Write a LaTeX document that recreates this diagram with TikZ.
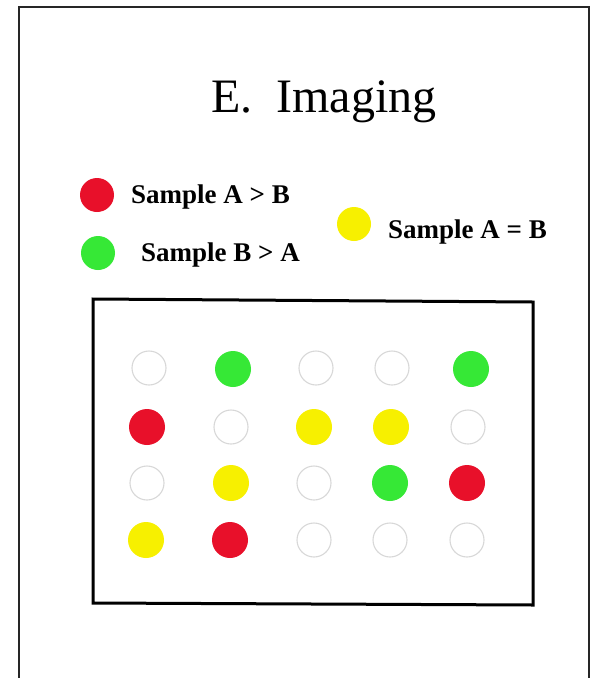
\documentclass[tikz,border=0pt]{standalone}
\usepackage{fontspec}
\setmainfont{Liberation Serif}
\definecolor{dred}{HTML}{E8102A}
\definecolor{dgreen}{HTML}{36E836}
\definecolor{dyellow}{HTML}{F7F000}
\definecolor{dring}{HTML}{D8D8D8}
\begin{document}
\begin{tikzpicture}[x=1pt,y=-1pt,
  dot/.style={circle,inner sep=0pt,minimum size=36pt},
  dotred/.style={dot,fill=dred},
  dotgreen/.style={dot,fill=dgreen},
  dotyellow/.style={dot,fill=dyellow},
  dotempty/.style={dot,draw=dring,line width=1.1pt,minimum size=34pt},
  legdot/.style={circle,inner sep=0pt,minimum size=34pt},
  legtext/.style={anchor=base west,inner sep=0pt,font=\fontsize{27}{32}\selectfont\bfseries},
  frame/.style={draw=black!85,line width=1.8pt},
  plate/.style={draw=black,line width=3pt}]
\useasboundingbox (0,0) rectangle (603,678);
\fill[white] (0,0) rectangle (603,678);
% outer frame (open at bottom)
\draw[frame] (19,680) -- (19,7) -- (589,7) -- (589,680);
% title
\node[anchor=base west,inner sep=0pt,font=\fontsize{48}{58}\selectfont] (title) at (211,112) {E.\ \ Imaging};
% legend
\node[legdot,fill=dred] (lr) at (97,195) {};
\node[legtext] (lrt) at (131,203) {Sample A > B};
\node[legdot,fill=dgreen] (lg) at (98,253) {};
\node[legtext] (lgt) at (141,261) {Sample B > A};
\node[legdot,fill=dyellow] (ly) at (354,224) {};
\node[legtext] (lyt) at (388,238) {Sample A = B};
% plate
\draw[plate] (93,299) -- (533,302) -- (533,605) -- (93,603) -- cycle;
% row 1
\node[dotempty]  (a1) at (149,368) {};
\node[dotgreen]  (a2) at (233,369) {};
\node[dotempty]  (a3) at (316,368) {};
\node[dotempty]  (a4) at (392,368) {};
\node[dotgreen]  (a5) at (471,369) {};
% row 2
\node[dotred]    (b1) at (147,427) {};
\node[dotempty]  (b2) at (231,427) {};
\node[dotyellow] (b3) at (314,427) {};
\node[dotyellow] (b4) at (391,427) {};
\node[dotempty]  (b5) at (468,427) {};
% row 3
\node[dotempty]  (c1) at (147,483) {};
\node[dotyellow] (c2) at (231,483) {};
\node[dotempty]  (c3) at (314,483) {};
\node[dotgreen]  (c4) at (390,483) {};
\node[dotred]    (c5) at (467,483) {};
% row 4
\node[dotyellow] (d1) at (146,540) {};
\node[dotred]    (d2) at (230,540) {};
\node[dotempty]  (d3) at (314,540) {};
\node[dotempty]  (d4) at (390,540) {};
\node[dotempty]  (d5) at (467,540) {};
\end{tikzpicture}
\end{document}
